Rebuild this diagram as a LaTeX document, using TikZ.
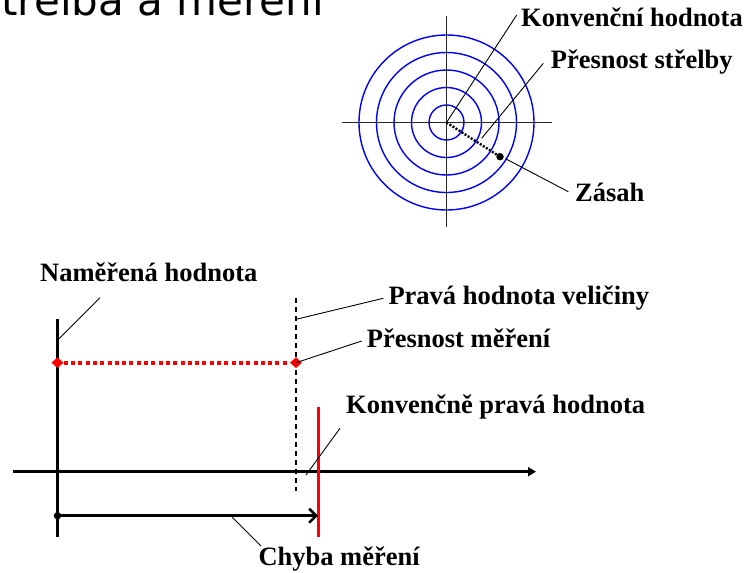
\documentclass[tikz,border=0pt]{standalone}
\usepackage{fontspec}
\setmainfont{Liberation Serif}
\newfontfamily\headfont{DejaVu Sans}
\usetikzlibrary{shapes.geometric,arrows.meta}
\begin{document}
\begin{tikzpicture}[x=1pt,y=-1pt,
  lbl/.style={font=\bfseries\fontsize{26.5}{30}\selectfont, inner sep=0, anchor=base west},
  leader/.style={line width=0.9pt, black},
  ring/.style={draw=blue, line width=1.4pt},
  crossline/.style={line width=1.2pt, black!85},
  marker/.style={diamond, fill=red, inner sep=0, minimum width=12pt, minimum height=11pt},
  blackdot/.style={circle, fill=black, inner sep=0, minimum size=7.5pt}]
\useasboundingbox (0,0) rectangle (748,573);

% heading, partly above the page
\node[font=\headfont\fontsize{42}{48}\selectfont, inner sep=0, anchor=base east] (head) at (324,15) {střelba a měření};

% ---------- target ----------
\coordinate (tc) at (446.5,122.5);
\foreach \r in {17.5,35,52.5,70,87.5} \draw[ring] (tc) circle (\r);
\coordinate (hl) at (341.7,122.5);
\coordinate (hr) at (551.7,122.5);
\coordinate (vt) at (446.5,16);
\coordinate (vb) at (446.5,226.7);
\draw[crossline] (hl) -- (hr);
\draw[crossline] (vt) -- (vb);
\node[blackdot] (hit) at (500,156.7) {};
\draw[line width=2.4pt, dash pattern=on 2pt off 1.6pt] (tc) -- (hit);

\node[lbl] (lkh) at (521,26.7) {Konvenční hodnota};
\node[lbl] (lps) at (550.7,68.3) {Přesnost střelby};
\node[lbl] (lz) at (575,201.7) {Zásah};
\coordinate (ekh) at (516.7,15);
\coordinate (sps) at (481.7,138.3);
\coordinate (eps) at (543.3,63.3);
\coordinate (sz) at (505.5,158.7);
\coordinate (ez) at (568.3,191.7);
\draw[leader] (tc) -- (ekh);
\draw[leader] (sps) -- (eps);
\draw[leader] (sz) -- (ez);

% ---------- measurement axis ----------
\coordinate (nt) at (57.5,319.3);
\coordinate (nb) at (57.5,536.7);
\draw[line width=3pt] (nt) -- (nb);
\coordinate (ax0) at (13.3,471.7);
\coordinate (ax1) at (536,471.7);
\draw[line width=2.6pt, -{Triangle[length=8pt,width=9pt]}] (ax0) -- (ax1);
\coordinate (pt) at (296,298.3);
\coordinate (pb) at (296,491);
\draw[line width=1.2pt, dash pattern=on 5pt off 4pt] (pt) -- (pb);
\node[marker] (m1) at (57.5,362.7) {};
\node[marker] (m2) at (296,362.7) {};
\draw[red, line width=3.6pt, dash pattern=on 4pt off 3.3pt] (m1) -- (m2);
\coordinate (rt) at (318.3,406.7);
\coordinate (rb) at (318.3,536.7);
\draw[red, line width=2.7pt] (rt) -- (rb);
\node[blackdot] (e0) at (57.5,515.7) {};
\coordinate (e1) at (318,515.7);
\draw[line width=3pt, -{Straight Barb[length=7pt,width=14pt,line width=2.6pt]}] (e0.center) -- (e1);

\node[lbl] (ln) at (40,281.7) {Naměřená hodnota};
\node[lbl] (lp) at (388.3,304) {Pravá hodnota veličiny};
\node[lbl] (lm) at (366.7,347.3) {Přesnost měření};
\node[lbl] (lk) at (346,413.3) {Konvenčně pravá hodnota};
\node[lbl] (lc) at (258.3,565) {Chyba měření};
\coordinate (sn) at (100,297.7);
\coordinate (en) at (57.7,340);
\coordinate (sp) at (296,319.3);
\coordinate (ep) at (383.3,298.3);
\coordinate (em) at (361.7,341);
\coordinate (sk) at (340,428.3);
\coordinate (ek) at (306,475);
\coordinate (sc) at (232.3,517.3);
\coordinate (ec) at (261,546);
\draw[leader] (sn) -- (en);
\draw[leader] (sp) -- (ep);
\draw[leader] (m2.center) -- (em);
\draw[leader] (sk) -- (ek);
\draw[leader] (sc) -- (ec);
\end{tikzpicture}
\end{document}
